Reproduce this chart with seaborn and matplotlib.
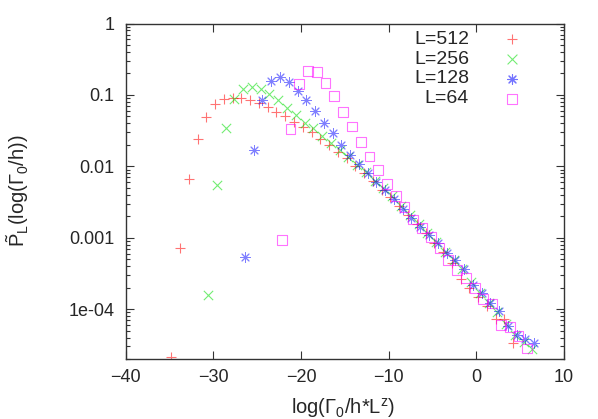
import matplotlib
matplotlib.use('Agg')
import matplotlib.pyplot as plt
import matplotlib.ticker as mticker
import seaborn as sns

# data (x = log(Gamma0/h*L^z), y = P_L)
x512 = [-34.8, -33.8, -32.8, -31.8, -30.8, -29.8, -28.8, -27.8, -26.8, -25.8,
        -24.8, -23.8, -22.8, -21.8, -20.8, -19.8, -18.8, -17.8, -16.8, -15.8,
        -14.8, -13.8, -12.8, -11.8, -10.8, -9.8, -8.8, -7.8, -6.8, -5.8,
        -4.8, -3.8, -2.8, -1.8, -0.8, 0.2, 1.2, 2.2, 3.2, 4.2]
y512 = [2.15e-5, 7.1e-4, 6.6e-3, 0.024, 0.0495, 0.075, 0.088, 0.091, 0.091, 0.085,
        0.076, 0.067, 0.058, 0.050, 0.042, 0.035, 0.030, 0.024, 0.020, 0.016,
        0.013, 0.0102, 0.0080, 0.0063, 0.0047, 0.0037, 0.0028, 0.0021, 0.00155, 0.00115,
        0.00085, 0.00063, 0.00044, 0.00026, 0.00020, 0.00015, 0.00011, 7.2e-5, 7.3e-5, 3.4e-5]

x256 = [-30.6, -29.6, -28.6, -27.6, -26.6, -25.6, -24.6, -23.6, -22.6, -21.6,
        -20.6, -19.6, -18.6, -17.6, -16.6, -15.6, -14.6, -13.6, -12.6, -11.6,
        -10.6, -9.6, -8.6, -7.6, -6.6, -5.6, -4.6, -3.6, -2.6, -1.6,
        -0.6, 0.4, 1.4, 2.4, 3.4, 4.4, 5.4, 6.4]
y256 = [1.6e-4, 0.0055, 0.034, 0.087, 0.12, 0.13, 0.12, 0.103, 0.085, 0.066,
        0.052, 0.041, 0.034, 0.027, 0.021, 0.017, 0.0135, 0.0105, 0.0082, 0.0063,
        0.0049, 0.0038, 0.0028, 0.0021, 0.00155, 0.00115, 0.00086, 0.00064, 0.00049, 0.00036,
        0.00024, 0.00017, 0.00012, 9.0e-5, 6.2e-5, 4.3e-5, 3.5e-5, 2.8e-5]

x128 = [-26.4, -25.4, -24.4, -23.4, -22.4, -21.4, -20.4, -19.4, -18.4, -17.4,
        -16.4, -15.4, -14.4, -13.4, -12.4, -11.4, -10.4, -9.4, -8.4, -7.4,
        -6.4, -5.4, -4.4, -3.4, -2.4, -1.4, -0.4, 0.6, 1.6, 2.6,
        3.6, 4.6, 5.6, 6.6]
y128 = [5.4e-4, 0.017, 0.085, 0.158, 0.176, 0.153, 0.114, 0.085, 0.059, 0.041,
        0.029, 0.020, 0.0146, 0.0108, 0.0081, 0.0061, 0.0047, 0.0035, 0.0025, 0.0019,
        0.0014, 0.0011, 0.00083, 0.00062, 0.00049, 0.00036, 0.00022, 0.00017, 0.00012, 9.5e-5,
        5.8e-5, 4.4e-5, 3.8e-5, 3.3e-5]

x64 = [-22.2, -21.2, -20.2, -19.2, -18.2, -17.2, -16.2, -15.2, -14.2, -13.2,
       -12.2, -11.2, -10.2, -9.2, -8.2, -7.2, -6.2, -5.2, -4.2, -3.2,
       -2.2, -1.2, -0.2, 0.8, 1.8, 2.8, 3.8, 4.8, 5.8]
y64 = [9.3e-4, 0.033, 0.142, 0.218, 0.207, 0.145, 0.097, 0.058, 0.036, 0.022,
       0.0137, 0.0088, 0.0056, 0.0038, 0.0027, 0.0018, 0.00135, 0.00103, 0.00071, 0.00049,
       0.00035, 0.00027, 0.00020, 0.00014, 0.00012, 6.0e-5, 5.6e-5, 4.2e-5, 2.8e-5]

labels = ['L=512', 'L=256', 'L=128', 'L=64']
colors = ['#ff0000', '#00dd00', '#0000ff', '#ff00ff']

sns.set_style('white')
plt.rcParams['font.family'] = ['Liberation Sans', 'DejaVu Sans']
plt.rcParams['mathtext.fontset'] = 'custom'
plt.rcParams['mathtext.rm'] = 'Liberation Sans'
plt.rcParams['mathtext.it'] = 'Liberation Sans:italic'

fig = plt.figure(figsize=(5.98, 4.19), dpi=100)
ax = fig.add_axes([0.2102, 0.1432, 0.733, 0.8007])

sns.scatterplot(x=x512, y=y512, marker='+', color=colors[0], s=45, linewidth=0.8, alpha=0.55, ax=ax)
sns.scatterplot(x=x256, y=y256, marker='x', color=colors[1], s=45, linewidth=0.8, alpha=0.55, ax=ax)
sns.scatterplot(x=x128, y=y128, marker=(8, 2, 0), color=colors[2], s=50, linewidth=0.7, alpha=0.5, ax=ax)
sns.scatterplot(x=x64, y=y64, marker='s', facecolor='none', edgecolor=colors[3], s=50,
                linewidth=0.8, alpha=0.55, ax=ax)

ax.set_yscale('log')
ax.set_xlim(-40, 10)
ax.set_ylim(2e-5, 1)
ax.set_xticks([-40, -30, -20, -10, 0, 10])
ax.set_yticks([1e-4, 1e-3, 1e-2, 1e-1, 1])
ax.yaxis.set_major_formatter(mticker.FixedFormatter(['1e-04', '0.001', '0.01', '0.1', '1']))
ax.yaxis.set_minor_locator(mticker.LogLocator(base=10, subs=range(2, 10)))
ax.yaxis.set_minor_formatter(mticker.NullFormatter())
ax.tick_params(which='both', direction='in', bottom=True, left=True, top=True, right=True,
               labelsize=13, color='#333333')
ax.tick_params(which='major', length=6, width=0.8)
ax.tick_params(which='minor', length=3, width=0.8)
ax.tick_params(axis='y', pad=8)
ax.tick_params(axis='x', pad=7)
for sp in ax.spines.values():
    sp.set_color('#333333')
    sp.set_linewidth(1.0)
ax.set_xlabel('')
ax.set_ylabel('')

# legend, gnuplot style: right-aligned text then the marker
markers = ['+', 'x', (8, 2, 0), 's']
rows = [0.953, 0.893, 0.835, 0.775]
for lab, m, c, yy in zip(labels, markers, colors, rows):
    ax.text(0.783, yy, lab, transform=ax.transAxes, ha='right', va='center', fontsize=14)
    if m == 's':
        ax.scatter([0.881], [yy], transform=ax.transAxes, marker=m, s=50, facecolor='none',
                   edgecolor=c, linewidth=0.8, alpha=0.55)
    else:
        ax.scatter([0.881], [yy], transform=ax.transAxes, marker=m, s=50, color=c,
                   linewidth=0.8, alpha=0.55)

fig.text(343 / 598, 1 - 408 / 419, r'log($\Gamma_0$/h*L$^\mathrm{z}$)', ha='center', va='center', fontsize=14.5)
fig.text(18 / 598, 1 - 191 / 419, r'$\tilde{\mathrm{P}}_\mathrm{L}$(log($\Gamma_0$/h))',
         ha='center', va='center', rotation=90, fontsize=14.5)

fig.savefig('out.png', dpi=100)
